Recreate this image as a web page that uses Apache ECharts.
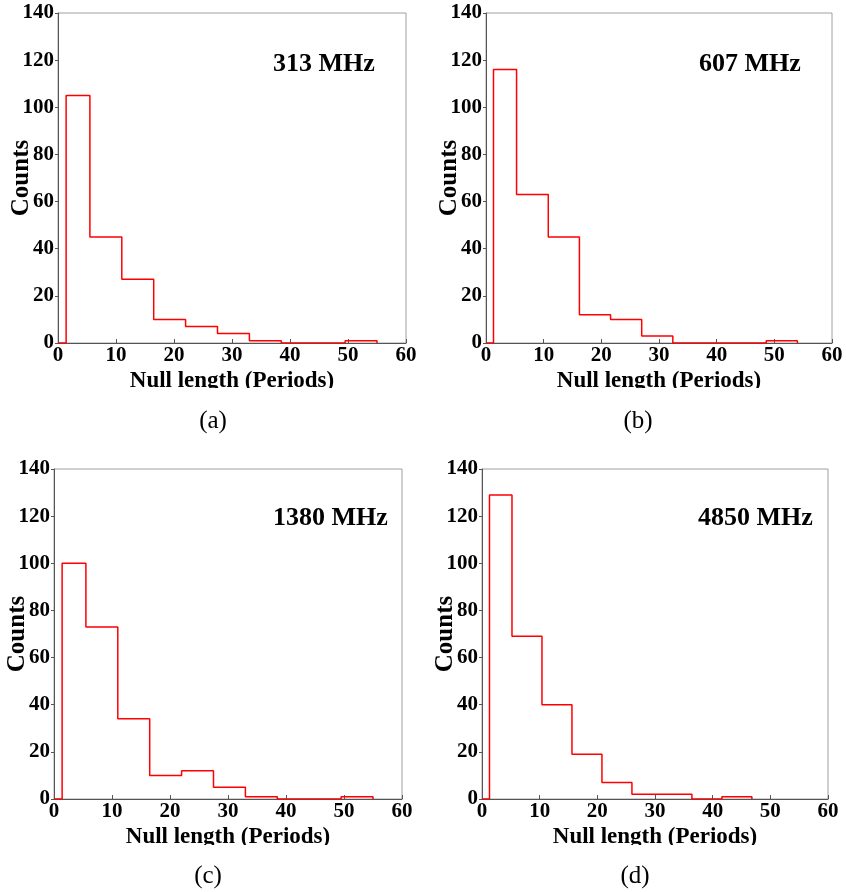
<!DOCTYPE html>
<html>
<head>
<meta charset="utf-8">
<script src="https://cdn.jsdelivr.net/npm/echarts@6/dist/echarts.min.js"></script>
<style>
html,body{margin:0;padding:0;background:#fff;}
#chart{width:846px;height:892px;}
</style>
</head>
<body>
<div id="chart"></div>
<script>
// Panel labels
const panelLabels = ['313 MHz', '607 MHz', '1380 MHz', '4850 MHz'];
const captions = ['(a)', '(b)', '(c)', '(d)'];
// Bin edges (null length, periods)
const edges313 = [1.4, 5.5, 11.0, 16.5, 22.0, 27.5, 33.0, 38.5, 44.0, 49.5, 55.0];
const counts313 = [105, 45, 27, 10, 7, 4, 1, 0, 0, 1];
const edges607 = [1.3, 5.3, 10.8, 16.2, 21.6, 27.0, 32.4, 37.8, 43.2, 48.6, 54.0];
const counts607 = [116, 63, 45, 12, 10, 3, 0, 0, 0, 1];
const edges1380 = [1.4, 5.5, 11.0, 16.5, 22.0, 27.5, 33.0, 38.5, 44.0, 49.5, 55.0];
const counts1380 = [100, 73, 34, 10, 12, 5, 1, 0, 0, 1];
const edges4850 = [1.3, 5.2, 10.4, 15.6, 20.8, 26.0, 31.2, 36.4, 41.6, 46.8];
const counts4850 = [129, 69, 40, 19, 7, 2, 2, 0, 1];
// Axis ticks
const xTicks = [0, 10, 20, 30, 40, 50, 60];
const yTicks = [0, 20, 40, 60, 80, 100, 120, 140];

const panels = [
  {edges: edges313, counts: counts313},
  {edges: edges607, counts: counts607},
  {edges: edges1380, counts: counts1380},
  {edges: edges4850, counts: counts4850}
];

const grids = [
  {left: 58, top: 13, width: 348, height: 330},
  {left: 486, top: 13, width: 346, height: 330},
  {left: 54, top: 469, width: 348, height: 330},
  {left: 482, top: 469, width: 346, height: 330}
];

const FONT = "'Liberation Serif', 'Times New Roman', serif";

function stepData(edges, counts) {
  // step:'end' — horizontal first, then vertical
  const d = [[0, 0]];
  for (let i = 0; i < counts.length; i++) d.push([edges[i], counts[i]]);
  d.push([edges[edges.length - 1], 0]);
  return d;
}

const option = {
  backgroundColor: '#fff',
  animation: false,
  grid: grids.map(g => Object.assign({show: true, borderColor: '#a0a0a0', borderWidth: 1, backgroundColor: 'transparent', containLabel: false, outerBoundsMode: 'none'}, g)),
  xAxis: grids.map((g, i) => ({
    type: 'value', gridIndex: i,
    min: xTicks[0], max: xTicks[xTicks.length - 1], interval: 10,
    name: 'Null length (Periods)', nameLocation: 'middle', nameGap: 27, nameMoveOverlap: false,
    nameTextStyle: {fontFamily: FONT, fontWeight: 'bold', fontSize: 23, color: '#000'},
    axisLine: {show: true, onZero: false, lineStyle: {color: '#555', width: 1}},
    axisTick: {show: true, inside: true, length: 4, lineStyle: {color: '#555'}},
    axisLabel: {fontFamily: FONT, fontWeight: 'bold', fontSize: 21, color: '#000', margin: 2},
    splitLine: {show: false}
  })),
  yAxis: grids.map((g, i) => ({
    type: 'value', gridIndex: i,
    min: yTicks[0], max: yTicks[yTicks.length - 1], interval: 20,
    name: 'Counts', nameLocation: 'middle', nameGap: 24, nameMoveOverlap: false,
    nameTextStyle: {fontFamily: FONT, fontWeight: 'bold', fontSize: 25, color: '#000'},
    axisLine: {show: true, lineStyle: {color: '#555', width: 1}},
    axisTick: {show: true, inside: false, length: 3, lineStyle: {color: '#555'}},
    axisLabel: {fontFamily: FONT, fontWeight: 'bold', fontSize: 21, color: '#000', margin: 4},
    splitLine: {show: false}
  })),
  series: panels.map((p, i) => ({
    type: 'line', xAxisIndex: i, yAxisIndex: i,
    step: 'end', showSymbol: false, symbol: 'none',
    lineStyle: {color: '#ff0000', width: 1.5},
    data: stepData(p.edges, p.counts),
    z: 3
  })),
  graphic: [
    // white bands that clip the bottom of the x-axis titles, as in the reference
    {type: 'rect', z: 100, shape: {x: 0, y: 388, width: 846, height: 12}, style: {fill: '#fff'}},
    {type: 'rect', z: 100, shape: {x: 0, y: 845, width: 846, height: 12}, style: {fill: '#fff'}},
    {type: 'text', z: 101, x: 273, y: 64, style: {text: panelLabels[0], font: "bold 26px " + FONT, fill: '#000', textAlign: 'left', textVerticalAlign: 'middle'}},
    {type: 'text', z: 101, x: 699, y: 64, style: {text: panelLabels[1], font: "bold 26px " + FONT, fill: '#000', textAlign: 'left', textVerticalAlign: 'middle'}},
    {type: 'text', z: 101, x: 273, y: 518, style: {text: panelLabels[2], font: "bold 26px " + FONT, fill: '#000', textAlign: 'left', textVerticalAlign: 'middle'}},
    {type: 'text', z: 101, x: 698, y: 518, style: {text: panelLabels[3], font: "bold 26px " + FONT, fill: '#000', textAlign: 'left', textVerticalAlign: 'middle'}},
    {type: 'text', z: 101, x: 213, y: 421, style: {text: captions[0], font: "25px " + FONT, fill: '#000', textAlign: 'center', textVerticalAlign: 'middle'}},
    {type: 'text', z: 101, x: 638, y: 421, style: {text: captions[1], font: "25px " + FONT, fill: '#000', textAlign: 'center', textVerticalAlign: 'middle'}},
    {type: 'text', z: 101, x: 208, y: 876, style: {text: captions[2], font: "25px " + FONT, fill: '#000', textAlign: 'center', textVerticalAlign: 'middle'}},
    {type: 'text', z: 101, x: 635, y: 876, style: {text: captions[3], font: "25px " + FONT, fill: '#000', textAlign: 'center', textVerticalAlign: 'middle'}}
  ]
};

const chart = echarts.init(document.getElementById('chart'), null, {renderer: 'canvas'});
chart.setOption(option);
</script>
</body>
</html>
